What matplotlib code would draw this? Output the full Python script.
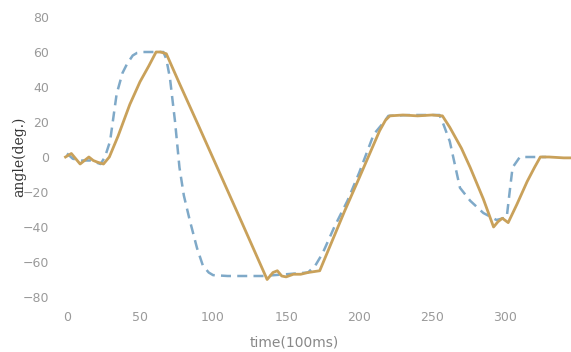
import numpy as np
import matplotlib

matplotlib.use("Agg")
import matplotlib.pyplot as plt

t_meas = [-1, 3, 6, 9, 12, 15, 18, 21, 25, 29, 35, 43, 50, 56, 61, 64, 68, 77, 90,
          105, 120, 137, 141, 144, 147, 150, 155, 160, 165, 173, 180, 190, 200, 214,
          218, 221, 230, 240, 250, 257, 262, 270, 276, 285, 292, 295, 298, 302, 308,
          315, 320, 324, 330, 340, 346]
a_meas = [0, 2, -1, -4, -2, 0, -2, -3, -4, 0, 12, 30, 43, 52, 60, 60, 59, 42, 18,
          -10, -38, -70, -66, -65, -68, -68.5, -67, -67, -66, -65, -51, -31, -12, 15,
          21, 23.5, 24, 23.5, 24, 23.5, 17, 5, -6, -24, -40, -37, -35, -37.5, -27,
          -14, -6, 0, 0, -0.5, -0.5]

# reference (dashed) trace
t_ref = [0, 4, 10, 16, 23, 26, 29.5, 34, 38, 41, 45, 48, 52, 66, 68, 70.5, 74, 77,
         80, 84, 89, 93, 97, 100, 110, 120, 134, 150, 165, 170, 175, 183, 192, 200,
         210, 217, 220, 235, 255, 258, 262, 269, 276, 285, 294, 301, 303, 305, 310,
         320, 328]
a_ref = [2, -1, -2, -2, -4, 0, 9, 36, 48, 53, 58, 59.5, 60, 60, 56, 45, 20, -6,
         -22, -36, -52, -62, -66, -67.5, -68, -68, -68, -67, -66, -62, -55, -40, -25,
         -9, 13, 20, 23.5, 24, 24, 18, 9, -17.6, -25, -32, -36, -34.5, -20, -6, 0,
         0, 0]

xticks = [0, 50, 100, 150, 200, 250, 300]
yticks = [-80, -60, -40, -20, 0, 20, 40, 60, 80]

GOLD = "#C9A15A"
BLUE = "#7FA9C8"
GRAY = "#9A9A9A"

fig = plt.figure(figsize=(5.71, 3.52), dpi=100)
ax = fig.add_axes([62 / 571, 55 / 352, 509 / 571, 280 / 352])

ax.plot(t_ref, a_ref, "--", color=BLUE, lw=1.8, dashes=(4, 2.5))
ax.plot(t_meas, a_meas, "-", color=GOLD, lw=2.0)

ax.set_xlim(-3.4, 345)
ax.set_ylim(-80, 80)
ax.set_xticks(xticks)
ax.set_yticks(yticks)
for s in ax.spines.values():
    s.set_visible(False)
ax.tick_params(length=0, colors=GRAY, labelsize=9)
ax.tick_params(axis="x", pad=10)
ax.tick_params(axis="y", pad=9)

ax.set_ylabel("angle(deg.)", family="serif", fontsize=10, color="#333333",
              labelpad=-2)
fig.text(294 / 571, 9 / 352, "time(100ms)", ha="center", va="center",
         fontsize=10, color="#888888")

fig.savefig("out.png", dpi=100)
